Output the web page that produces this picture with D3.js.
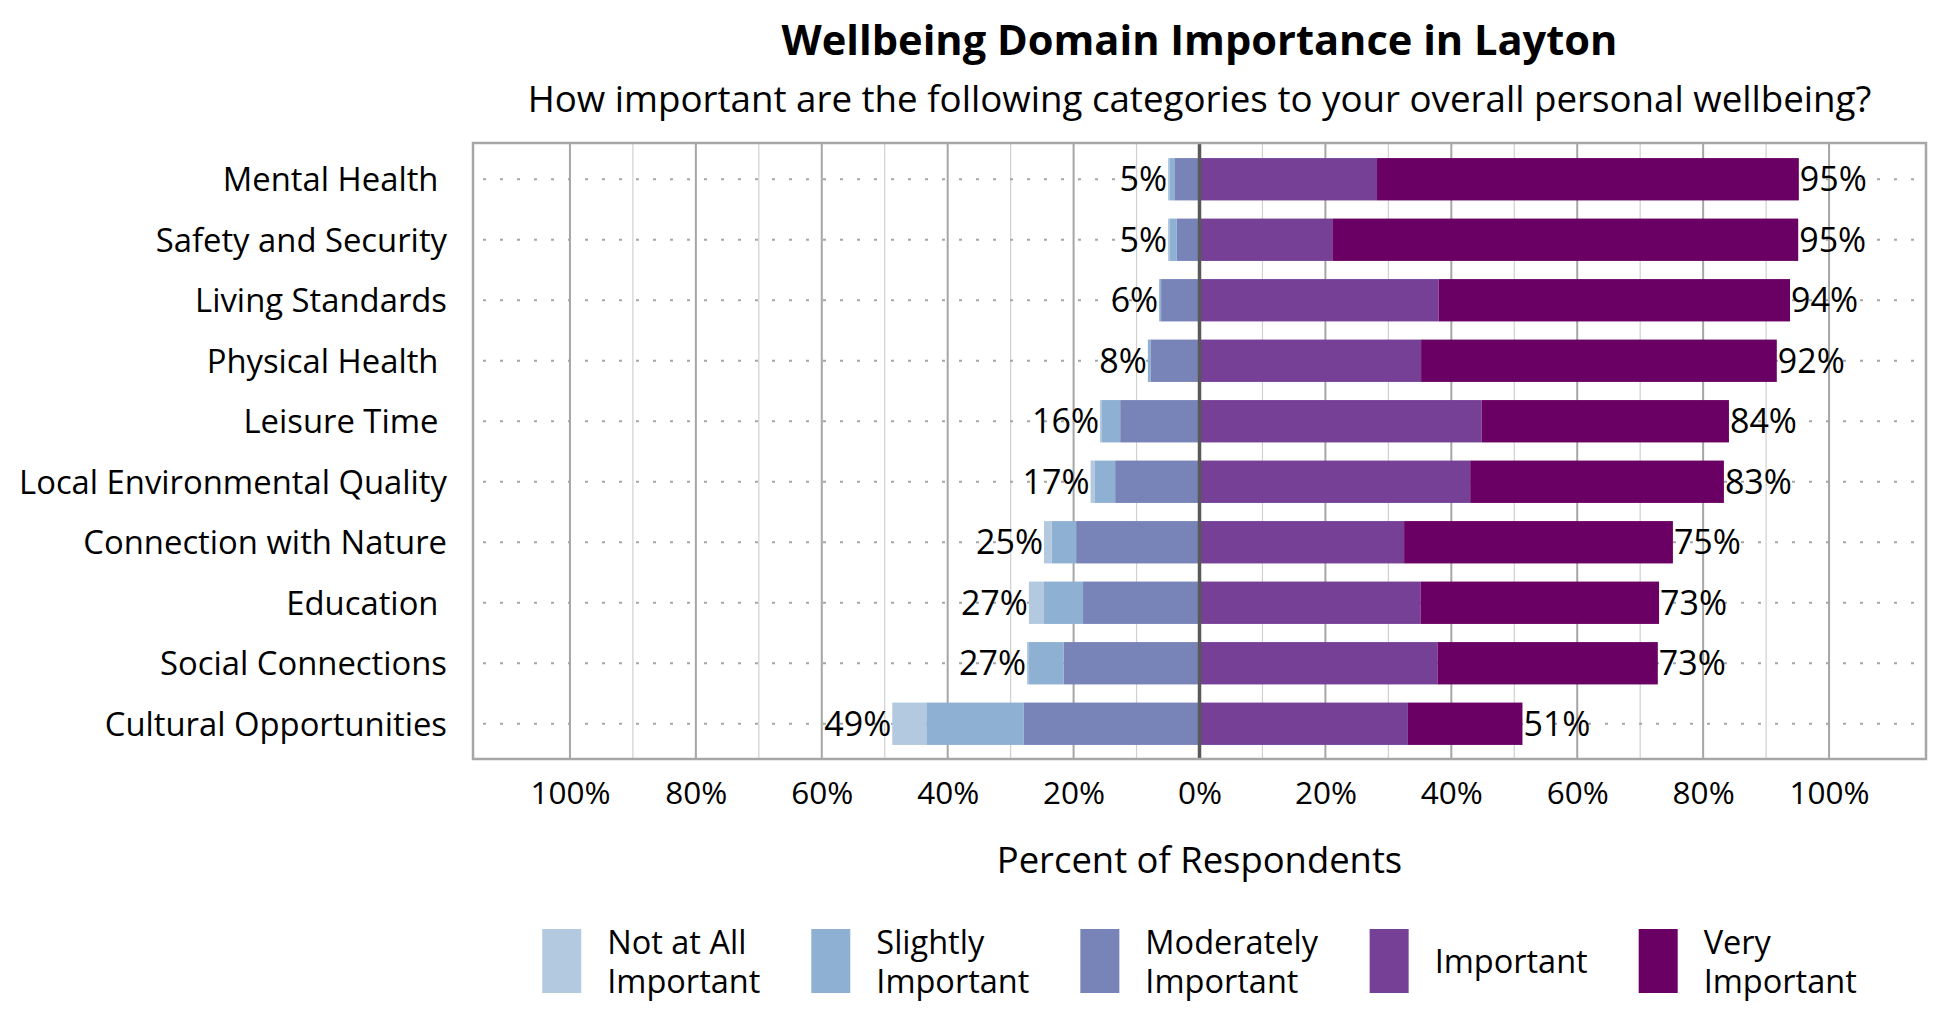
<!DOCTYPE html>
<html>
<head>
<meta charset="utf-8">
<script src="https://cdn.jsdelivr.net/npm/d3@7"></script>
<style>
  body { margin: 0; background: #fff; }
  svg text { font-family: "Open Sans", "Noto Sans", sans-serif; fill: #000; white-space: pre; }
</style>
</head>
<body>
<div id="vis"></div>
<script>
const width = 1950;
const height = 1020;

// Survey categories, top to bottom (some carry a trailing space, as in the source sheet)
const categories = [
    "Mental Health ", "Safety and Security", "Living Standards", "Physical Health ",
    "Leisure Time ", "Local Environmental Quality", "Connection with Nature",
    "Education ", "Social Connections", "Cultural Opportunities"
];

// Percent of respondents per answer
const notAtAll   = [0.2, 0.2, 0.0, 0.0, 0.2, 0.6, 1.2, 2.4, 0.2, 5.4];
const slightly   = [0.8, 1.2, 0.3, 0.4, 3.0, 3.3, 3.9, 6.2, 5.6, 15.5];
const moderately = [4.0, 3.6, 6.1, 7.8, 12.6, 13.4, 19.6, 18.5, 21.6, 27.9];
const important  = [28.2, 21.1, 38.0, 35.2, 44.8, 43.0, 32.5, 35.1, 37.8, 33.1];
const veryImp    = [67.0, 74.0, 55.8, 56.5, 39.3, 40.3, 42.7, 37.9, 35.0, 18.2];

const tickValues = [-100, -80, -60, -40, -20, 0, 20, 40, 60, 80, 100];

const legendLabels = [
    ["Not at All", "Important"],
    ["Slightly", "Important"],
    ["Moderately", "Important"],
    ["Important"],
    ["Very", "Important"]
];
const colors = ["#b3c9e0", "#8eb0d2", "#7883b8", "#764096", "#6a0064"];

// Layout
const plot = { left: 473, right: 1926, top: 143, bottom: 759 };
const x = d3.scaleLinear().domain([-115.4, 115.4]).range([plot.left, plot.right]);
const y = d3.scaleBand().domain(categories).range([149, 754]).paddingInner(0.3).paddingOuter(0.15);

const svg = d3.select("#vis").append("svg")
    .attr("width", width)
    .attr("height", height);

// Build stacked segments: negatives go left from 0, positives go right
const rows = categories.map((c, i) => {
    const neg = [moderately[i], slightly[i], notAtAll[i]];
    const pos = [important[i], veryImp[i]];
    const segs = [];
    let acc = 0;
    neg.forEach((v, k) => {
        segs.push({ cat: c, x0: -acc - v, x1: -acc, color: colors[2 - k] });
        acc += v;
    });
    const negTotal = acc;
    acc = 0;
    pos.forEach((v, k) => {
        segs.push({ cat: c, x0: acc, x1: acc + v, color: colors[3 + k] });
        acc += v;
    });
    return { cat: c, segs, negTotal, posTotal: acc };
});

// Vertical gridlines (minor every 10%, major every 20%)
const gridVals = d3.range(-100, 101, 10).filter(d => d !== 0);
svg.append("g")
    .selectAll("line")
    .data(gridVals)
    .enter().append("line")
    .attr("x1", d => x(d)).attr("x2", d => x(d))
    .attr("y1", plot.top).attr("y2", plot.bottom)
    .attr("stroke", d => d % 20 === 0 ? "#a6a6a6" : "#d0d0d0")
    .attr("stroke-width", d => d % 20 === 0 ? 2 : 1.2);

// Dotted row lines
svg.append("g")
    .selectAll("line")
    .data(categories)
    .enter().append("line")
    .attr("x1", plot.left + 10).attr("x2", plot.right)
    .attr("y1", d => y(d) + y.bandwidth() / 2)
    .attr("y2", d => y(d) + y.bandwidth() / 2)
    .attr("stroke", "#a6a6a6")
    .attr("stroke-width", 2)
    .attr("stroke-dasharray", "3,14");

// Bars
svg.append("g")
    .selectAll("g")
    .data(rows)
    .enter().append("g")
    .selectAll("rect")
    .data(d => d.segs)
    .enter().append("rect")
    .attr("x", d => x(d.x0))
    .attr("width", d => Math.max(0, x(d.x1) - x(d.x0)))
    .attr("y", d => y(d.cat))
    .attr("height", y.bandwidth())
    .attr("fill", d => d.color);

// Zero line
svg.append("line")
    .attr("x1", x(0)).attr("x2", x(0))
    .attr("y1", plot.top).attr("y2", plot.bottom)
    .attr("stroke", "#595959")
    .attr("stroke-width", 3.5);

// Plot border
svg.append("rect")
    .attr("x", plot.left).attr("y", plot.top)
    .attr("width", plot.right - plot.left)
    .attr("height", plot.bottom - plot.top)
    .attr("fill", "none")
    .attr("stroke", "#a6a6a6")
    .attr("stroke-width", 2.5);

// Data labels (totals on each side)
const labels = svg.append("g").style("font-size", "34px");
labels.selectAll(".neg")
    .data(rows)
    .enter().append("text")
    .attr("x", d => x(-d.negTotal) - 1)
    .attr("y", d => y(d.cat) + y.bandwidth() / 2)
    .attr("dy", "0.36em")
    .attr("text-anchor", "end")
    .text(d => Math.round(d.negTotal) + "%");
labels.selectAll(".pos")
    .data(rows)
    .enter().append("text")
    .attr("x", d => x(d.posTotal) + 1)
    .attr("y", d => y(d.cat) + y.bandwidth() / 2)
    .attr("dy", "0.36em")
    .attr("text-anchor", "start")
    .text(d => Math.round(d.posTotal) + "%");

// Category labels
svg.append("g")
    .selectAll("text")
    .data(categories)
    .enter().append("text")
    .attr("x", 447)
    .attr("y", d => y(d) + y.bandwidth() / 2)
    .attr("dy", "0.36em")
    .attr("text-anchor", "end")
    .style("font-size", "32.8px")
    .text(d => d);

// X axis tick labels
const xAxis = svg.append("g")
    .attr("transform", `translate(0,${plot.bottom})`)
    .call(d3.axisBottom(x)
        .tickValues(tickValues)
        .tickSize(0)
        .tickPadding(23)
        .tickFormat(d => Math.abs(d) + "%"));
xAxis.select(".domain").remove();
xAxis.selectAll("text")
    .style("font-size", "31.5px")
    .style("font-family", "'Open Sans', sans-serif")
    .attr("fill", "#000");

const cx = (plot.left + plot.right) / 2;

// Axis title
svg.append("text")
    .attr("x", cx).attr("y", 873)
    .attr("text-anchor", "middle")
    .style("font-size", "36.4px")
    .text("Percent of Respondents");

// Titles
svg.append("text")
    .attr("x", cx).attr("y", 55)
    .attr("text-anchor", "middle")
    .style("font-size", "41.6px")
    .style("font-weight", "bold")
    .text("Wellbeing Domain Importance in Layton");
svg.append("text")
    .attr("x", cx).attr("y", 112)
    .attr("text-anchor", "middle")
    .style("font-size", "36.7px")
    .text("How important are the following categories to your overall personal wellbeing?");

// Legend: flow layout, centred under the plot
const legend = svg.append("g");
const items = legend.selectAll("g")
    .data(legendLabels)
    .enter().append("g");
items.append("rect")
    .attr("y", 929)
    .attr("width", 39)
    .attr("height", 64)
    .attr("fill", (d, i) => colors[i]);
const legendText = items.append("text")
    .attr("x", 65)
    .style("font-size", "32.5px");
legendText.each(function(d) {
    const t = d3.select(this);
    if (d.length === 1) {
        t.append("tspan").attr("x", 65).attr("y", 973).text(d[0]);
    } else {
        t.append("tspan").attr("x", 65).attr("y", 954).text(d[0]);
        t.append("tspan").attr("x", 65).attr("y", 993).text(d[1]);
    }
});
const widths = [];
legendText.each(function() { widths.push(this.getBBox().width); });
const itemW = widths.map(w => 65 + w);
const gap = 51;
const total = d3.sum(itemW) + gap * (itemW.length - 1);
let pos = cx - total / 2;
items.attr("transform", (d, i) => {
    const tx = pos;
    pos += itemW[i] + gap;
    return `translate(${tx},0)`;
});
</script>
</body>
</html>
